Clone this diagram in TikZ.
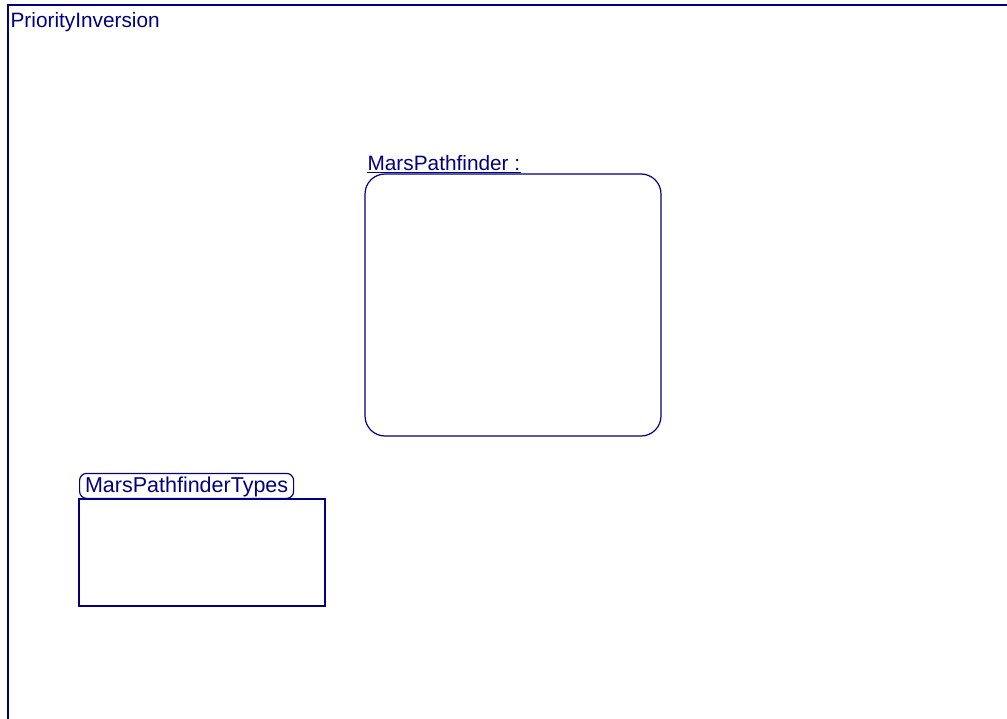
\documentclass[tikz,border=0pt]{standalone}
\usepackage{fontspec}
\setmainfont{Liberation Sans}
\usepackage{tikz}
\usepackage{xcolor}
\usetikzlibrary{positioning, calc}
\definecolor{umlNavy}{RGB}{0,0,128}

\begin{document}
\begin{tikzpicture}[x=1pt, y=-1pt, line width=1.2pt, umlNavy, font=\fontsize{20.8}{24}\selectfont]
    \useasboundingbox (0,0) rectangle (1007,719);
    % diagram frame, only top and left are shown
    \draw (8,719) -- (8,5) -- (1007,5);
    \node[anchor=base west, inner sep=0] (diagName) at (10,28) {PriorityInversion};
    % part
    \coordinate (PA) at (365,174); \coordinate (PB) at (661,436);
    \draw[rounded corners=20] (PA) rectangle (PB);
    \node[anchor=base west, inner sep=0] (partName) at (367,171) {MarsPathfinder :};
    \draw[line width=1pt] ([yshift=-2pt]partName.base west) -- ([yshift=-2pt]partName.base east);
    % package
    \node[draw, rounded corners=7, anchor=south west, minimum width=214, minimum height=25, inner sep=0,
          text depth=0pt, text height=13pt, font=\fontsize{21.5}{24}\selectfont] (pkgTab) at (79,499) {MarsPathfinderTypes};
    \coordinate (KB) at (325,606);
    \draw (pkgTab.south west) rectangle (KB);
\end{tikzpicture}
\end{document}
